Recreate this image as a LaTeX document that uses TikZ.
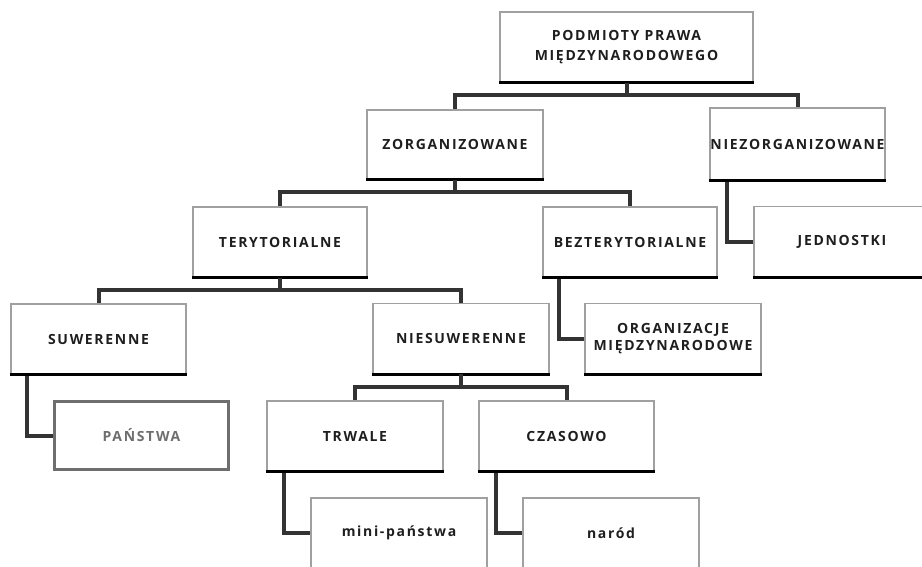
\documentclass[tikz,border=0pt]{standalone}
\usepackage{fontspec}
\setmainfont{Open Sans}
\newfontfamily\labfont[LetterSpace=12]{Open Sans}
\usetikzlibrary{positioning}
\definecolor{conncol}{HTML}{333333}
\definecolor{txtcol}{HTML}{1E1E1E}
\definecolor{bordercol}{HTML}{A0A0A0}
\definecolor{pancol}{HTML}{6E6E6E}
\tikzset{
  box/.style={draw=bordercol, line width=1.2pt, fill=white, minimum width=176pt, minimum height=70pt,
    inner sep=0pt, align=center, font=\labfont\bfseries\fontsize{14}{20}\selectfont, text=txtcol},
  panbox/.style={box, draw=pancol, line width=3.2pt, text=pancol},
  conn/.style={draw=conncol, line width=4pt},
  botline/.style={draw=black, line width=3pt}
}
\begin{document}
\begin{tikzpicture}[x=1pt,y=-1pt]
\useasboundingbox (0,0) rectangle (922,566);
\fill[white] (0,0) rectangle (922,566);
\coordinate (c1) at (626.5,95);
\coordinate (c2) at (455,192);
\coordinate (c3) at (280,290);
\coordinate (c4) at (461,387);
% nodes
\node[box, minimum width=253pt] (top) at (626.5,47) {PODMIOTY PRAWA\\MIĘDZYNARODOWEGO};
\node[box, minimum height=69pt] (zorg) at (455,144.5) {ZORGANIZOWANE};
\node[box, minimum width=175pt, minimum height=72pt] (niezorg) at (797.5,144) {NIEZORGANIZOWANE};
\node[box, minimum width=174pt] (teryt) at (280,242) {TERYTORIALNE};
\node[box, minimum width=174pt] (bezter) at (630,242) {BEZTERYTORIALNE};
\node[box] (jedn) at (842,241.5) {JEDNOSTKI};
\node[box, minimum width=175pt] (suw) at (98.5,339) {SUWERENNE};
\node[box] (niesuw) at (461,338.5) {NIESUWERENNE};
\node[box] (org) at (673,338.5) {ORGANIZACJE\\[-3pt]MIĘDZYNARODOWE};
\node[panbox, minimum width=174pt, minimum height=68pt] (pan) at (141.5,435.5) {PAŃSTWA};
\node[box] (trwale) at (355,436) {TRWALE};
\node[box, minimum width=175pt] (czas) at (566.5,436) {CZASOWO};
\node[box] (mini) at (399,533) {mini-państwa};
\node[box] (narod) at (611,533) {naród};
% bottom shadow lines
\foreach \n in {top,zorg,niezorg,teryt,bezter,jedn,suw,niesuw,org,trwale,czas}
  \draw[botline] (\n.south west) -- (\n.south east);
% tree connectors
\draw[conn] (top.south) -- (top.south |- c1) -| (zorg.north);
\draw[conn] (top.south |- c1) -| (niezorg.north);
\draw[conn] (zorg.south) -- (zorg.south |- c2) -| (teryt.north);
\draw[conn] (zorg.south |- c2) -| (bezter.north);
\draw[conn] (teryt.south) -- (teryt.south |- c3) -| (suw.north);
\draw[conn] (teryt.south |- c3) -| (niesuw.north);
\draw[conn] (niesuw.south) -- (niesuw.south |- c4) -| (trwale.north);
\draw[conn] (niesuw.south |- c4) -| (czas.north);
% elbow connectors
\draw[conn] ([xshift=18pt,yshift=-1pt]niezorg.south west) |- (jedn.west);
\draw[conn] ([xshift=17pt,yshift=-1pt]suw.south west) |- (pan.west);
\draw[conn] ([xshift=17pt,yshift=-1pt]bezter.south west) |- (org.west);
\draw[conn] ([xshift=18pt,yshift=-1pt]trwale.south west) |- (mini.west);
\draw[conn] ([xshift=18pt,yshift=-1pt]czas.south west) |- (narod.west);
\end{tikzpicture}
\end{document}
